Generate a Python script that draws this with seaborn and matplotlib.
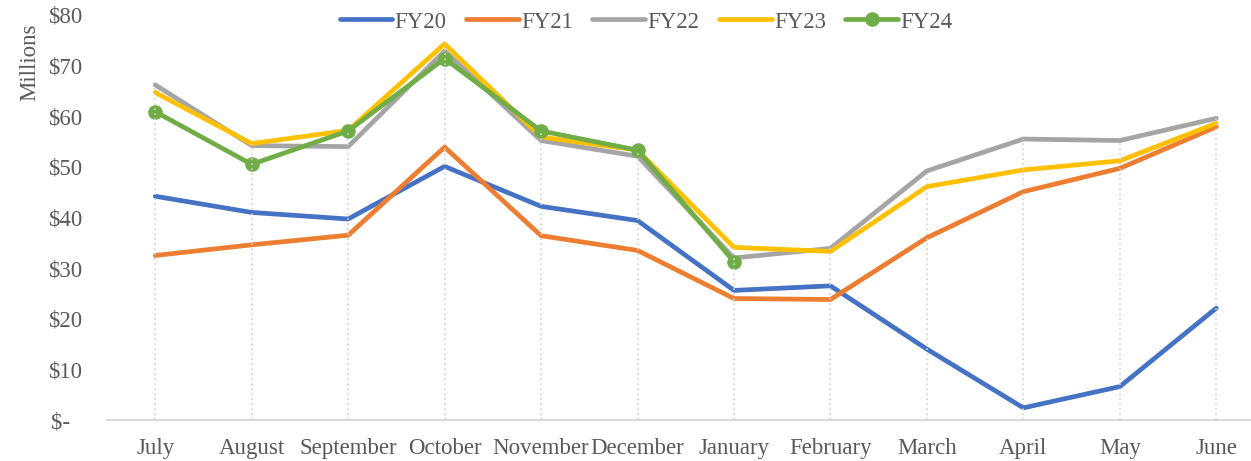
import pandas as pd
import matplotlib.pyplot as plt
import seaborn as sns

# --- Data ($ millions) ---
months = ['July', 'August', 'September', 'October', 'November', 'December',
          'January', 'February', 'March', 'April', 'May', 'June']
fy20 = [44.2, 41.0, 39.7, 50.1, 42.2, 39.4, 25.6, 26.5, 14.0, 2.4, 6.6, 22.1]
fy21 = [32.5, 34.6, 36.5, 53.9, 36.4, 33.5, 24.0, 23.8, 36.0, 45.1, 49.7, 57.9]
fy22 = [66.2, 54.2, 54.0, 72.9, 55.2, 52.1, 32.0, 33.9, 49.2, 55.5, 55.2, 59.6]
fy23 = [64.7, 54.6, 57.2, 74.3, 55.9, 53.3, 34.1, 33.3, 46.1, 49.4, 51.2, 58.6]
fy24 = [60.9, 50.5, 57.1, 71.4, 57.1, 53.3, 31.3]

series = {'FY20': fy20, 'FY21': fy21, 'FY22': fy22, 'FY23': fy23, 'FY24': fy24}
colors = {'FY20': '#4472C4', 'FY21': '#ED7D31', 'FY22': '#A5A5A5',
          'FY23': '#FFC000', 'FY24': '#70AD47'}

rows = []
for name, vals in series.items():
    for i, v in enumerate(vals):
        rows.append({'FY': name, 'pos': i, 'value': v})
df = pd.DataFrame(rows)

sns.set_style('white')
plt.rcParams['font.family'] = ['Liberation Serif', 'DejaVu Serif']
text_color = '#595959'
fs = 16.5

fig = plt.figure(figsize=(12.51, 4.61), dpi=100)
ax = fig.add_axes([107 / 1251, 41 / 461, (1251 - 107) / 1251, 405 / 461])

for name in series:
    sub = df[df['FY'] == name]
    sns.lineplot(data=sub, x='pos', y='value', ax=ax, color=colors[name],
                 linewidth=3.4, label=name,
                 marker='o' if name == 'FY24' else None,
                 markersize=10.5 if name == 'FY24' else 0,
                 markeredgewidth=0, solid_capstyle='round')

# drop lines from the highest point of each month to the axis
tops = df.groupby('pos')['value'].max()
ax.vlines(tops.index, 0, tops.values, colors='#D0D0D0', linestyles=(0, (1, 2)),
          linewidth=1.2, zorder=5)

ax.set_xlim(-0.5, 11.36)
ax.set_ylim(0, 80)
ax.set_xticks(range(len(months)))
ax.set_xticklabels(months)
yticks = list(range(0, 90, 10))
ax.set_yticks(yticks)
ax.set_yticklabels(['$-  '] + [f'${t}' for t in yticks[1:]])
ax.tick_params(axis='both', length=0, labelsize=fs, labelcolor=text_color)
ax.tick_params(axis='y', pad=18)
ax.tick_params(axis='x', pad=13)
ax.set_xlabel('')
ax.set_ylabel('')
for s in ['top', 'right', 'left']:
    ax.spines[s].set_visible(False)
ax.spines['bottom'].set_color('#D9D9D9')
ax.spines['bottom'].set_linewidth(1.5)

fig.text(30 / 1251, 1 - 62 / 461, 'Millions', rotation=90, ha='center',
         va='center', fontsize=fs, color=text_color)

handles, labels = ax.get_legend_handles_labels()
ax.get_legend().remove()
leg = fig.legend(handles, labels, loc='center', bbox_to_anchor=(646 / 1251, 1 - 22 / 461),
                 ncol=5, frameon=False, fontsize=fs, handlelength=2.3,
                 handletextpad=0.1, columnspacing=0.85)
for t in leg.get_texts():
    t.set_color(text_color)

fig.savefig('out.png', dpi=100)
plt.close(fig)
